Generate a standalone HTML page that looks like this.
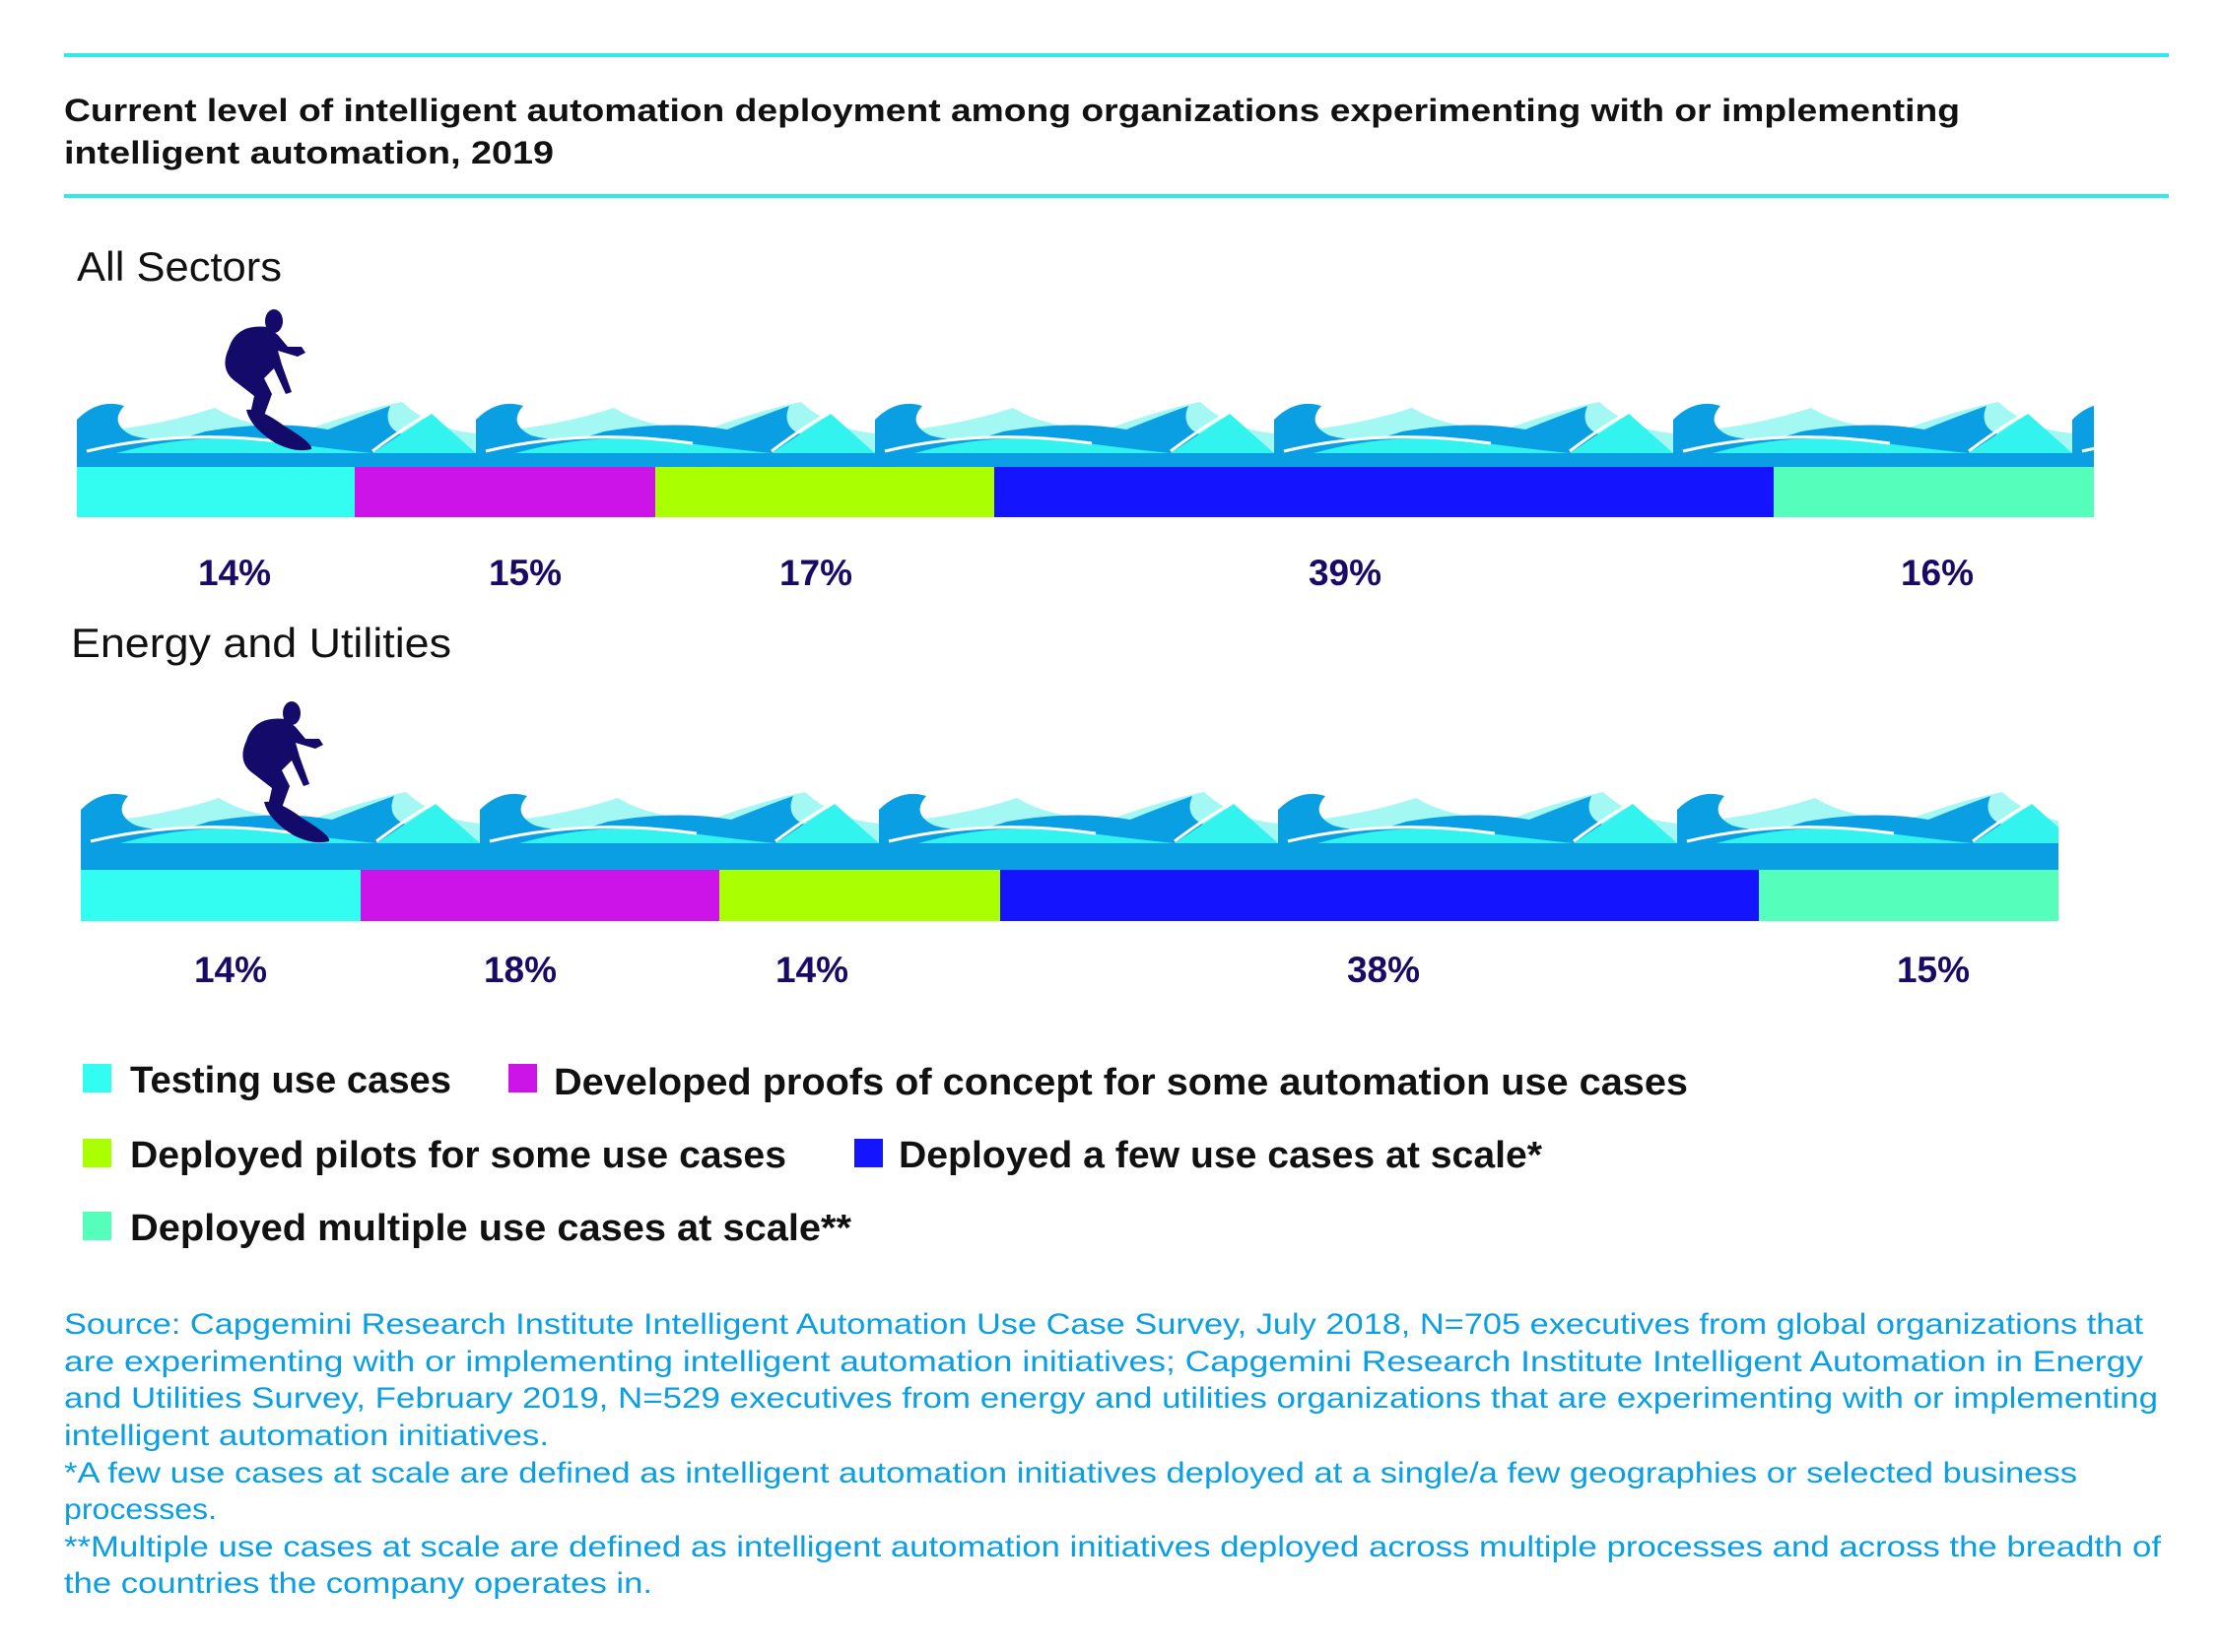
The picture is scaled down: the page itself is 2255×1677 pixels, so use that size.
<!DOCTYPE html>
<html><head><meta charset="utf-8"><style>
html,body{margin:0;padding:0;background:#fff;}
svg{display:block;}
text{font-family:"Liberation Sans",sans-serif;}
</style></head><body>
<svg width="2255" height="1677" viewBox="0 0 2255 1677" xmlns="http://www.w3.org/2000/svg">
<defs>
<pattern id="wv" x="0" y="0" width="405" height="52" patternUnits="userSpaceOnUse">
  <rect width="405" height="52" fill="#fff"/>
  <path d="M0 52 L0 32 Q80 26 140 6 Q180 30 240 26 Q290 8 330 0 Q360 28 405 32 L405 52 Z" fill="#a3f8f3"/>
  <path d="M0 52 L0 18 Q22 -4 48 4 Q32 22 56 34 Q90 44 130 30 Q200 18 255 28 Q295 12 318 4 Q308 28 338 36 L338 52 Z" fill="#0a9fe3"/>
  <path d="M300 52 L360 12 L405 52 Z" fill="#33f3ee"/>
  <path d="M40 52 Q120 30 200 40 Q260 48 300 52 Z" fill="#33f3ee"/>
  <path d="M10 50 Q110 26 220 42" fill="none" stroke="#fff" stroke-width="3"/>
  <path d="M300 50 Q340 20 365 8" fill="none" stroke="#fff" stroke-width="3"/>
</pattern>
<g id="surfer" fill="#140a6a">
  <ellipse cx="68" cy="12" rx="9" ry="12"/>
  <path d="M62 18 Q30 14 22 40 Q12 62 30 74 L48 88 L44 106 L58 108 L66 86 L58 70 L68 60 L80 86 L86 84 L76 56 L72 42 L92 48 L100 44 L96 38 L82 38 L72 26 Z"/>
  <path d="M40 102 Q54 100 78 118 Q108 136 106 142 Q90 146 70 136 Q44 120 40 102 Z"/>
</g>
</defs>

<rect x="65" y="54" width="2136" height="4" fill="#33e8e8"/>
<text x="65" y="123" font-size="32" font-weight="bold" fill="#111" textLength="1924" lengthAdjust="spacingAndGlyphs">Current level of intelligent automation deployment among organizations experimenting with or implementing</text>
<text x="65" y="166" font-size="32" font-weight="bold" fill="#111" textLength="497" lengthAdjust="spacingAndGlyphs">intelligent automation, 2019</text>
<rect x="65" y="197" width="2136" height="4" fill="#33e8e8"/>

<!-- All sectors -->
<text x="78" y="285" font-size="42" fill="#111" textLength="208" lengthAdjust="spacingAndGlyphs">All Sectors</text>
<g transform="translate(78,408)"><rect x="0" y="0" width="2047" height="52" fill="url(#wv)"/></g>
<rect x="78" y="460" width="2047" height="14" fill="#0a9fe3"/>
<rect x="78" y="474" width="282" height="51" fill="#33fdf0"/>
<rect x="360" y="474" width="305" height="51" fill="#cc14e8"/>
<rect x="665" y="474" width="344" height="51" fill="#aaff00"/>
<rect x="1009" y="474" width="791" height="51" fill="#1414ff"/>
<rect x="1800" y="474" width="325" height="51" fill="#55ffbb"/>
<use href="#surfer" x="210" y="314"/>
<g font-size="37" font-weight="bold" fill="#1a0a66" text-anchor="middle">
<text x="238" y="594">14%</text><text x="533" y="594">15%</text><text x="828" y="594">17%</text><text x="1365" y="594">39%</text><text x="1966" y="594">16%</text>
</g>

<!-- Energy -->
<text x="72" y="667" font-size="42" fill="#111" textLength="386" lengthAdjust="spacingAndGlyphs">Energy and Utilities</text>
<g transform="translate(82,804)"><rect x="0" y="0" width="2007" height="52" fill="url(#wv)"/></g>
<rect x="82" y="856" width="2007" height="27" fill="#0a9fe3"/>
<rect x="82" y="883" width="284" height="52" fill="#33fdf0"/>
<rect x="366" y="883" width="364" height="52" fill="#cc14e8"/>
<rect x="730" y="883" width="285" height="52" fill="#aaff00"/>
<rect x="1015" y="883" width="770" height="52" fill="#1414ff"/>
<rect x="1785" y="883" width="304" height="52" fill="#55ffbb"/>
<use href="#surfer" x="228" y="712"/>
<g font-size="37" font-weight="bold" fill="#1a0a66" text-anchor="middle">
<text x="234" y="997">14%</text><text x="528" y="997">18%</text><text x="824" y="997">14%</text><text x="1404" y="997">38%</text><text x="1962" y="997">15%</text>
</g>

<!-- Legend -->
<rect x="84" y="1080" width="29" height="29" fill="#33fdf0"/>
<text x="132" y="1109" font-size="38" font-weight="bold" fill="#111" textLength="326" lengthAdjust="spacingAndGlyphs">Testing use cases</text>
<rect x="516" y="1080" width="29" height="29" fill="#cc14e8"/>
<text x="562" y="1111" font-size="38" font-weight="bold" fill="#111" textLength="1151" lengthAdjust="spacingAndGlyphs">Developed proofs of concept for some automation use cases</text>
<rect x="84" y="1156" width="29" height="29" fill="#aaff00"/>
<text x="132" y="1185" font-size="38" font-weight="bold" fill="#111" textLength="666" lengthAdjust="spacingAndGlyphs">Deployed pilots for some use cases</text>
<rect x="867" y="1156" width="29" height="29" fill="#1414ff"/>
<text x="912" y="1185" font-size="38" font-weight="bold" fill="#111" textLength="653" lengthAdjust="spacingAndGlyphs">Deployed a few use cases at scale*</text>
<rect x="84" y="1230" width="29" height="29" fill="#55ffbb"/>
<text x="132" y="1259" font-size="38" font-weight="bold" fill="#111" textLength="732" lengthAdjust="spacingAndGlyphs">Deployed multiple use cases at scale**</text>

<!-- Source -->
<g font-size="30" fill="#0a9fe3">
<text x="65" y="1354" textLength="2110" lengthAdjust="spacingAndGlyphs">Source: Capgemini Research Institute Intelligent Automation Use Case Survey, July 2018, N=705 executives from global organizations that</text>
<text x="65" y="1392" textLength="2110" lengthAdjust="spacingAndGlyphs">are experimenting with or implementing intelligent automation initiatives; Capgemini Research Institute Intelligent Automation in Energy</text>
<text x="65" y="1429" textLength="2125" lengthAdjust="spacingAndGlyphs">and Utilities Survey, February 2019, N=529 executives from energy and utilities organizations that are experimenting with or implementing</text>
<text x="65" y="1467" textLength="492" lengthAdjust="spacingAndGlyphs">intelligent automation initiatives.</text>
<text x="65" y="1505" textLength="2043" lengthAdjust="spacingAndGlyphs">*A few use cases at scale are defined as intelligent automation initiatives deployed at a single/a few geographies or selected business</text>
<text x="65" y="1542" textLength="155" lengthAdjust="spacingAndGlyphs">processes.</text>
<text x="65" y="1580" textLength="2128" lengthAdjust="spacingAndGlyphs">**Multiple use cases at scale are defined as intelligent automation initiatives deployed across multiple processes and across the breadth of</text>
<text x="65" y="1617" textLength="597" lengthAdjust="spacingAndGlyphs">the countries the company operates in.</text>
</g>
</svg>
</body></html>
